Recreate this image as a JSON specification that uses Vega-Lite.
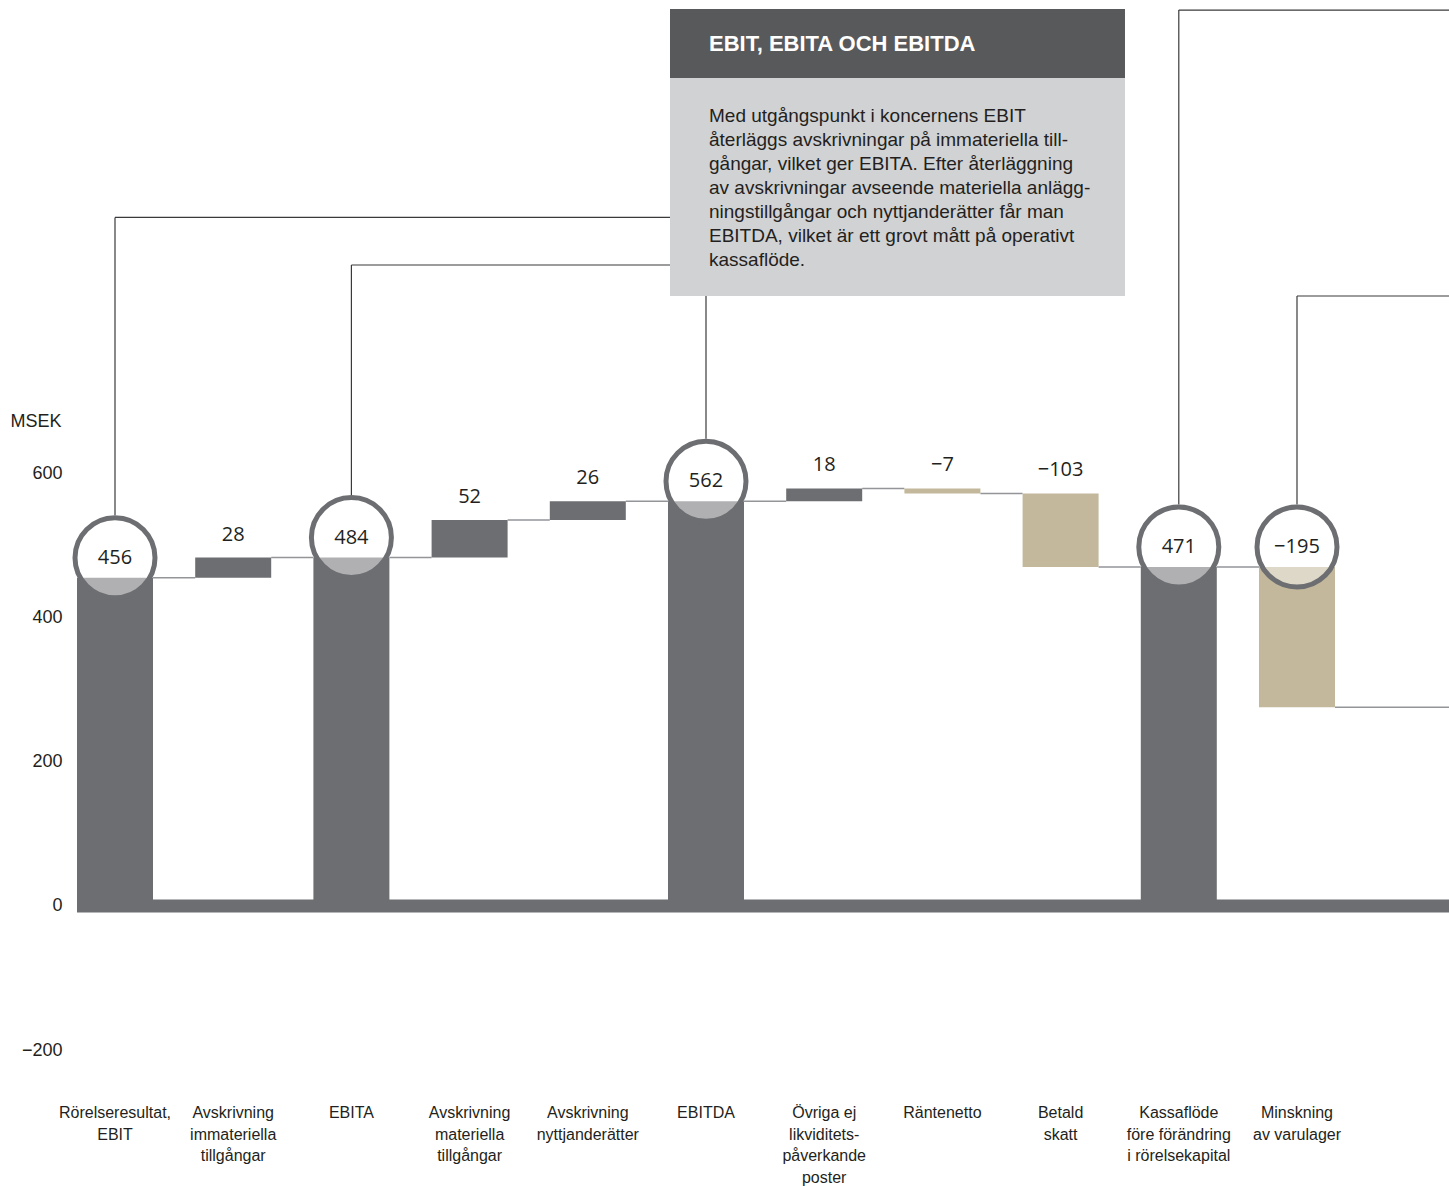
{
  "$schema": "https://vega.github.io/schema/vega-lite/v6.json",
  "autosize": "none",
  "padding": {"left": 77, "top": 0, "right": 0, "bottom": 100},
  "width": 1372,
  "height": 1086,
  "background": "#ffffff",
  "config": {"view": {"stroke": null}},
  "datasets": {
    "poster": [
      {"i": 0, "post": "Rörelseresultat,|EBIT", "belopp": 456, "fran": 0, "till": 456, "typ": "summa", "ring": true},
      {"i": 1, "post": "Avskrivning|immateriella|tillgångar", "belopp": 28, "fran": 456, "till": 484, "typ": "ökning", "ring": false},
      {"i": 2, "post": "EBITA", "belopp": 484, "fran": 0, "till": 484, "typ": "summa", "ring": true},
      {"i": 3, "post": "Avskrivning|materiella|tillgångar", "belopp": 52, "fran": 484, "till": 536, "typ": "ökning", "ring": false},
      {"i": 4, "post": "Avskrivning|nyttjanderätter", "belopp": 26, "fran": 536, "till": 562, "typ": "ökning", "ring": false},
      {"i": 5, "post": "EBITDA", "belopp": 562, "fran": 0, "till": 562, "typ": "summa", "ring": true},
      {"i": 6, "post": "Övriga ej|likviditets-|påverkande|poster", "belopp": 18, "fran": 562, "till": 580, "typ": "ökning", "ring": false},
      {"i": 7, "post": "Räntenetto", "belopp": -7, "fran": 580, "till": 573, "typ": "minskning", "ring": false},
      {"i": 8, "post": "Betald|skatt", "belopp": -103, "fran": 573, "till": 471, "typ": "minskning", "ring": false},
      {"i": 9, "post": "Kassaflöde|före förändring|i rörelsekapital", "belopp": 471, "fran": 0, "till": 471, "typ": "summa", "ring": true},
      {"i": 10, "post": "Minskning|av varulager", "belopp": -195, "fran": 471, "till": 276, "typ": "minskning", "ring": true}
    ],
    "hanvisningar": [
      {"i": 0, "niva": 456, "ny": 956.3, "nx": 4.6954},
      {"i": 2, "niva": 484, "ny": 890.3, "nx": 4.6954},
      {"i": 5, "niva": 562, "ny": 847.2, "nx": null},
      {"i": 9, "niva": 471, "ny": 1244.4, "nx": 12},
      {"i": 10, "niva": 471, "ny": 847.2, "nx": 12}
    ],
    "ruta": [
      {"del": "rubrik", "x1": 4.6954, "x2": 8.5448, "y1": 1245.8, "y2": 1150, "text": "EBIT, EBITA OCH EBITDA"},
      {"del": "brodtext", "x1": 4.6954, "x2": 8.5448, "y1": 1150, "y2": 847.2, "text": "Med utgångspunkt i koncernens EBIT|återläggs avskrivningar på immateriella till-|gångar, vilket ger EBITA. Efter återläggning|av avskrivningar avseende materiella anlägg-|ningstillgångar och nyttjanderätter får man|EBITDA, vilket är ett grovt mått på operativt|kassaflöde."}
    ]
  },
  "layer": [
    {
      "data": {"name": "poster"},
      "transform": [
        {"window": [{"op": "lead", "field": "i", "as": "nasta"}], "sort": [{"field": "i"}]},
        {"calculate": "datum.nasta == null ? 12 : datum.nasta", "as": "nasta"}
      ],
      "mark": {"type": "rule", "color": "#939598", "strokeWidth": 1.5, "xOffset": 38, "x2Offset": -38, "clip": true},
      "encoding": {
        "x": {"field": "i", "type": "quantitative", "scale": {"domain": [-0.3215, 11.286], "nice": false, "zero": false, "padding": 0}, "axis": null},
        "x2": {"field": "nasta"},
        "y": {"field": "till", "type": "quantitative", "scale": {"domain": [-250, 1258.333], "nice": false, "zero": false, "padding": 0},
          "axis": {"values": [-200, 0, 200, 400, 600], "format": "d", "domain": false, "ticks": false, "grid": false,
            "labelPadding": 15, "labelFont": "Liberation Sans", "labelFontSize": 18, "labelColor": "#231f20",
            "labelFlush": false, "labelOverlap": false,
            "title": "MSEK", "titleAngle": 0, "titleAlign": "left", "titleBaseline": "middle", "titleX": -67, "titleY": 421,
            "titleFont": "Liberation Sans", "titleFontSize": 18, "titleFontWeight": "normal", "titleColor": "#231f20"}}
      }
    },
    {
      "data": {"name": "poster"},
      "mark": {"type": "bar", "width": 76},
      "encoding": {
        "x": {"field": "i", "type": "quantitative"},
        "y": {"field": "fran", "type": "quantitative"},
        "y2": {"field": "till"},
        "color": {"field": "typ", "type": "nominal", "scale": {"domain": ["summa", "ökning", "minskning"], "range": ["#6d6e71", "#6d6e71", "#c3b89b"]}, "legend": null}
      }
    },
    {
      "data": {"values": [{"niva": 0}]},
      "mark": {"type": "rule", "color": "#6d6e71", "strokeWidth": 13},
      "encoding": {"y": {"field": "niva", "type": "quantitative"}}
    },
    {
      "data": {"name": "hanvisningar"},
      "mark": {"type": "rule", "color": "#3a3a3c", "strokeWidth": 1.2, "y2Offset": -62.5},
      "encoding": {
        "x": {"field": "i", "type": "quantitative"},
        "y": {"field": "ny", "type": "quantitative"},
        "y2": {"field": "niva"}
      }
    },
    {
      "data": {"name": "hanvisningar"},
      "transform": [{"filter": "datum.nx != null"}],
      "mark": {"type": "rule", "color": "#3a3a3c", "strokeWidth": 1.2, "clip": true},
      "encoding": {
        "x": {"field": "i", "type": "quantitative"},
        "x2": {"field": "nx"},
        "y": {"field": "ny", "type": "quantitative"}
      }
    },
    {
      "data": {"name": "poster"},
      "transform": [{"filter": "datum.ring"}, {"calculate": "max(datum.fran, datum.till)", "as": "topp"}],
      "mark": {"type": "point", "shape": "circle", "size": 6400, "filled": true, "fill": "#ffffff", "fillOpacity": 0.46, "stroke": "#6d6e71", "strokeWidth": 5, "strokeOpacity": 1, "opacity": 1, "yOffset": -20},
      "encoding": {
        "x": {"field": "i", "type": "quantitative"},
        "y": {"field": "topp", "type": "quantitative"}
      }
    },
    {
      "data": {"name": "poster"},
      "transform": [{"filter": "datum.ring"}, {"calculate": "max(datum.fran, datum.till)", "as": "topp"}],
      "mark": {"type": "text", "font": "Open Sans", "fontSize": 20, "color": "#231f20", "baseline": "middle", "align": "center", "yOffset": -20},
      "encoding": {
        "x": {"field": "i", "type": "quantitative"},
        "y": {"field": "topp", "type": "quantitative"},
        "text": {"field": "belopp", "type": "quantitative", "format": "d"}
      }
    },
    {
      "data": {"name": "poster"},
      "transform": [{"filter": "!datum.ring"}, {"calculate": "max(datum.fran, datum.till)", "as": "topp"}],
      "mark": {"type": "text", "font": "Open Sans", "fontSize": 20, "color": "#231f20", "baseline": "middle", "align": "center", "yOffset": -23},
      "encoding": {
        "x": {"field": "i", "type": "quantitative"},
        "y": {"field": "topp", "type": "quantitative"},
        "text": {"field": "belopp", "type": "quantitative", "format": "d"}
      }
    },
    {
      "data": {"name": "poster"},
      "mark": {"type": "text", "font": "Liberation Sans", "fontSize": 16, "color": "#231f20", "baseline": "top", "align": "center", "lineBreak": "|", "lineHeight": 21.5, "yOffset": 19},
      "encoding": {
        "x": {"field": "i", "type": "quantitative"},
        "y": {"datum": -250, "type": "quantitative"},
        "text": {"field": "post", "type": "nominal"}
      }
    },
    {
      "data": {"name": "ruta"},
      "transform": [{"filter": "datum.del == 'rubrik'"}],
      "mark": {"type": "rect", "color": "#58595b"},
      "encoding": {
        "x": {"field": "x1", "type": "quantitative"},
        "x2": {"field": "x2"},
        "y": {"field": "y1", "type": "quantitative"},
        "y2": {"field": "y2"}
      }
    },
    {
      "data": {"name": "ruta"},
      "transform": [{"filter": "datum.del == 'brodtext'"}],
      "mark": {"type": "rect", "color": "#d1d2d4"},
      "encoding": {
        "x": {"field": "x1", "type": "quantitative"},
        "x2": {"field": "x2"},
        "y": {"field": "y1", "type": "quantitative"},
        "y2": {"field": "y2"}
      }
    },
    {
      "data": {"name": "ruta"},
      "transform": [{"filter": "datum.del == 'rubrik'"}, {"calculate": "(datum.y1 + datum.y2) / 2", "as": "mitt"}],
      "mark": {"type": "text", "font": "Liberation Sans", "fontSize": 22, "fontWeight": "bold", "color": "#ffffff", "baseline": "middle", "align": "left", "xOffset": 39},
      "encoding": {
        "x": {"field": "x1", "type": "quantitative"},
        "y": {"field": "mitt", "type": "quantitative"},
        "text": {"field": "text", "type": "nominal"}
      }
    },
    {
      "data": {"name": "ruta"},
      "transform": [{"filter": "datum.del == 'brodtext'"}],
      "mark": {"type": "text", "font": "Liberation Sans", "fontSize": 19, "color": "#231f20", "baseline": "alphabetic", "align": "left", "xOffset": 39, "yOffset": 44, "lineBreak": "|", "lineHeight": 24},
      "encoding": {
        "x": {"field": "x1", "type": "quantitative"},
        "y": {"field": "y1", "type": "quantitative"},
        "text": {"field": "text", "type": "nominal"}
      }
    }
  ]
}
